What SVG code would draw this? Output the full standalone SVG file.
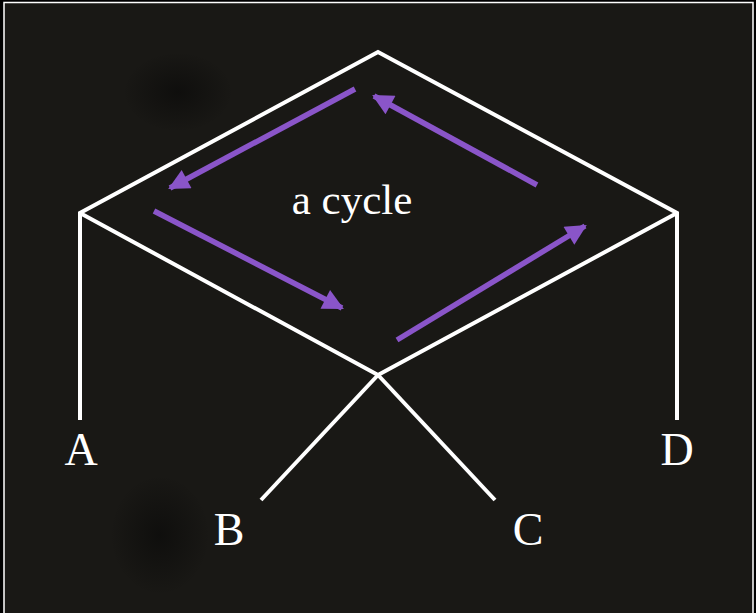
<svg xmlns="http://www.w3.org/2000/svg" width="756" height="613" viewBox="0 0 756 613">
<defs>
<radialGradient id="dark">
<stop offset="0" stop-color="#050505" stop-opacity="0.5"/>
<stop offset="1" stop-color="#050505" stop-opacity="0"/>
</radialGradient>
<marker id="ah" viewBox="0 0 10 10" refX="9" refY="5" markerWidth="4.4" markerHeight="3.8" orient="auto" markerUnits="strokeWidth">
<path d="M0,0 L10,5 L0,10 Z" fill="#8a55c9"/>
</marker>
</defs>
<style>
.edge{stroke:#ffffff;stroke-width:4;fill:none;stroke-linecap:butt;stroke-linejoin:miter}
.arr{stroke:#8a55c9;stroke-width:5.5;fill:none}
.lbl{font-family:"Liberation Serif","DejaVu Serif",serif;font-size:46px;fill:#ffffff;text-anchor:middle}
</style>
<rect x="0" y="0" width="756" height="613" fill="#000000"/>
<rect x="4" y="2.5" width="749" height="620" fill="#191815" stroke="#ffffff" stroke-width="1.5"/>
<ellipse cx="178" cy="92" rx="55" ry="40" fill="url(#dark)"/>
<ellipse cx="160" cy="535" rx="50" ry="60" fill="url(#dark)"/>
<g id="connectors">
<polyline class="edge" points="80,420 80,213 378,52 677,213 677,420"/>
<polyline class="edge" points="80,213 378,375 677,213"/>
<line class="edge" x1="378" y1="375" x2="261" y2="500"/>
<line class="edge" x1="378" y1="375" x2="495" y2="500"/>
<line class="arr" x1="355" y1="89" x2="170" y2="188" marker-end="url(#ah)"/>
<line class="arr" x1="154" y1="211" x2="342" y2="308" marker-end="url(#ah)"/>
<line class="arr" x1="397" y1="340" x2="585" y2="226" marker-end="url(#ah)"/>
<line class="arr" x1="537" y1="185" x2="374" y2="96" marker-end="url(#ah)"/>
</g>
<g id="node-cycle"><text class="lbl" x="352" y="214" style="font-size:43px">a cycle</text></g>
<g id="node-A"><text class="lbl" x="81" y="465">A</text></g>
<g id="node-B"><text class="lbl" x="229" y="545">B</text></g>
<g id="node-C"><text class="lbl" x="528" y="545">C</text></g>
<g id="node-D"><text class="lbl" x="677" y="465">D</text></g>
</svg>
